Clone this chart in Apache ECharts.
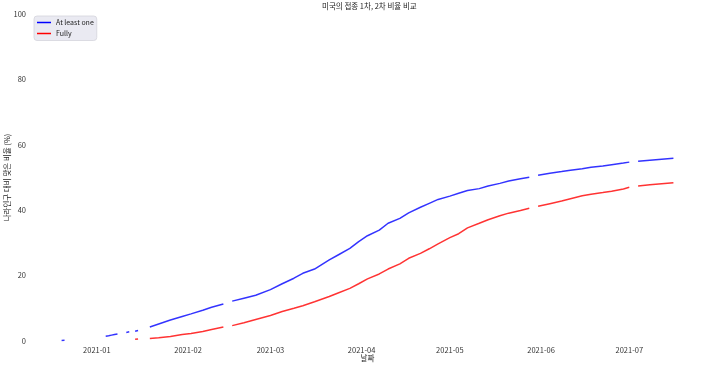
<!DOCTYPE html>
<html>
<head>
<meta charset="utf-8">
<script src="https://cdn.jsdelivr.net/npm/echarts@6/dist/echarts.min.js"></script>
<style>
html,body{margin:0;padding:0;background:#fff;}
#chart{width:709px;height:368px;}
</style>
</head>
<body>
<div id="chart"></div>
<script>
// Data (US vaccination share, %)
var dates = [
  '2020-12-20','2020-12-21','2020-12-22',
  '2021-01-04','2021-01-05','2021-01-06','2021-01-07','2021-01-08','2021-01-09',
  '2021-01-11','2021-01-12','2021-01-13',
  '2021-01-14','2021-01-15','2021-01-16',
  '2021-01-19','2021-01-22','2021-01-26','2021-01-30','2021-02-02','2021-02-06','2021-02-09','2021-02-13','2021-02-14',
  '2021-02-16','2021-02-20','2021-02-24','2021-03-01','2021-03-05','2021-03-09','2021-03-12','2021-03-16','2021-03-21',
  '2021-03-24','2021-03-28','2021-03-31','2021-04-03','2021-04-07','2021-04-10','2021-04-14','2021-04-17','2021-04-21',
  '2021-04-24','2021-04-27','2021-05-01','2021-05-04','2021-05-07','2021-05-11','2021-05-14','2021-05-18','2021-05-21',
  '2021-05-25','2021-05-28','2021-05-29',
  '2021-05-31','2021-06-04','2021-06-08','2021-06-11','2021-06-15','2021-06-18','2021-06-22','2021-06-25','2021-06-29',
  '2021-07-01','2021-07-02',
  '2021-07-04','2021-07-08','2021-07-12','2021-07-16'
];
var atLeastOne = [
  0.17, 0.2, null,
  1.45, 1.6, 1.8, 2.0, 2.15, null,
  2.6, 2.8, null,
  3.0, 3.2, null,
  4.3, 5.2, 6.4, 7.5, 8.3, 9.4, 10.3, 11.3, null,
  12.2, 13.1, 14.0, 15.7, 17.5, 19.2, 20.7, 22.0, 24.8,
  26.3, 28.3, 30.4, 32.2, 33.9, 36.0, 37.5, 39.2, 40.9,
  42.1, 43.3, 44.3, 45.2, 46.0, 46.6, 47.4, 48.2, 48.9,
  49.6, 50.1, null,
  50.7, 51.3, 51.8, 52.2, 52.7, 53.1, 53.5, 53.9, 54.4,
  54.7, null,
  55.0, 55.3, 55.6, 55.9
];
var fully = [
  null, null, null,
  null, null, null, null, null, null,
  null, null, null,
  0.5, 0.6, null,
  0.8, 1.0, 1.4, 2.0, 2.3, 2.9, 3.5, 4.3, null,
  4.7, 5.6, 6.6, 7.8, 9.0, 10.0, 10.8, 12.0, 13.6,
  14.7, 16.1, 17.5, 19.0, 20.5, 22.0, 23.6, 25.3, 26.8,
  28.2, 29.7, 31.6, 32.8, 34.6, 36.0, 37.1, 38.3, 39.1,
  39.9, 40.6, null,
  41.2, 42.0, 42.8, 43.5, 44.4, 44.9, 45.4, 45.8, 46.5,
  47.0, null,
  47.4, 47.8, 48.1, 48.4
];
var monthTicks = ['2021-01-01','2021-02-01','2021-03-01','2021-04-01','2021-05-01','2021-06-01','2021-07-01'];
var yTicks = [0, 20, 40, 60, 80, 100];

var ts = function (s) { return Date.parse(s + 'T00:00:00Z'); };
var DAY = 86400000;
var seriesA = dates.map(function (d, i) { return [ts(d), atLeastOne[i]]; });
var seriesF = dates.map(function (d, i) { return [ts(d), fully[i]]; });
var tickTs = monthTicks.map(ts);
var xMin = ts('2020-12-20') - 10.4 * DAY;
var xMax = ts('2021-07-16') + 10.4 * DAY;

var FONT = '"Noto Sans CJK KR", "Noto Sans", sans-serif';
var FS = 7.5;
var chart = echarts.init(document.getElementById('chart'), null, {renderer: 'canvas'});
chart.setOption({
  animation: false,
  backgroundColor: '#ffffff',
  textStyle: {fontFamily: FONT},
  title: {
    text: '미국의 접종 1차, 2차 비율 비교',
    left: 322, top: 2, padding: 0,
    textStyle: {fontSize: FS, fontWeight: 'normal', color: '#222', fontFamily: FONT}
  },
  legend: {
    left: 34, top: 16,
    orient: 'vertical',
    data: ['At least one', 'Fully'],
    icon: 'rect',
    itemWidth: 14, itemHeight: 1.5,
    itemGap: 2,
    padding: [2, 3, 2.5, 3],
    backgroundColor: '#eaeaf2',
    borderColor: '#d4d4dc',
    borderWidth: 0.8,
    borderRadius: 3,
    textStyle: {fontSize: 7, color: '#222', fontFamily: FONT, lineHeight: 9}
  },
  grid: {left: 31, right: 5, top: 14, bottom: 27, containLabel: false, outerBoundsMode: 'none'},
  xAxis: {
    type: 'value',
    min: xMin, max: xMax,
    name: '날짜',
    nameLocation: 'middle',
    nameGap: 13,
    nameMoveOverlap: false,
    nameTextStyle: {fontSize: FS, color: '#222', fontFamily: FONT},
    axisLine: {show: false},
    axisTick: {show: false},
    splitLine: {show: false},
    axisLabel: {
      customValues: tickTs,
      fontSize: FS, color: '#333', margin: 5, fontFamily: FONT,
      formatter: function (v) {
        var d = new Date(v);
        var m = d.getUTCMonth() + 1;
        return d.getUTCFullYear() + '-' + (m < 10 ? '0' + m : m);
      }
    }
  },
  yAxis: {
    type: 'value',
    min: yTicks[0], max: yTicks[yTicks.length - 1], interval: 20,
    name: '나라인구 대비 맞은 비율 (%)',
    nameLocation: 'middle',
    nameGap: 20,
    nameRotate: 90,
    nameMoveOverlap: false,
    nameTextStyle: {fontSize: FS, color: '#222', fontFamily: FONT},
    axisLine: {show: false},
    axisTick: {show: false},
    splitLine: {show: false},
    axisLabel: {fontSize: FS, color: '#333', margin: 5, fontFamily: FONT}
  },
  series: [
    {
      name: 'At least one', type: 'line', data: seriesA,
      showSymbol: false, symbol: 'none', connectNulls: false,
      lineStyle: {color: '#0000ff', width: 1.5, opacity: 0.8},
      itemStyle: {color: '#0000ff'}
    },
    {
      name: 'Fully', type: 'line', data: seriesF,
      showSymbol: false, symbol: 'none', connectNulls: false,
      lineStyle: {color: '#ff0000', width: 1.5, opacity: 0.8},
      itemStyle: {color: '#ff0000'}
    }
  ]
});
</script>
</body>
</html>
